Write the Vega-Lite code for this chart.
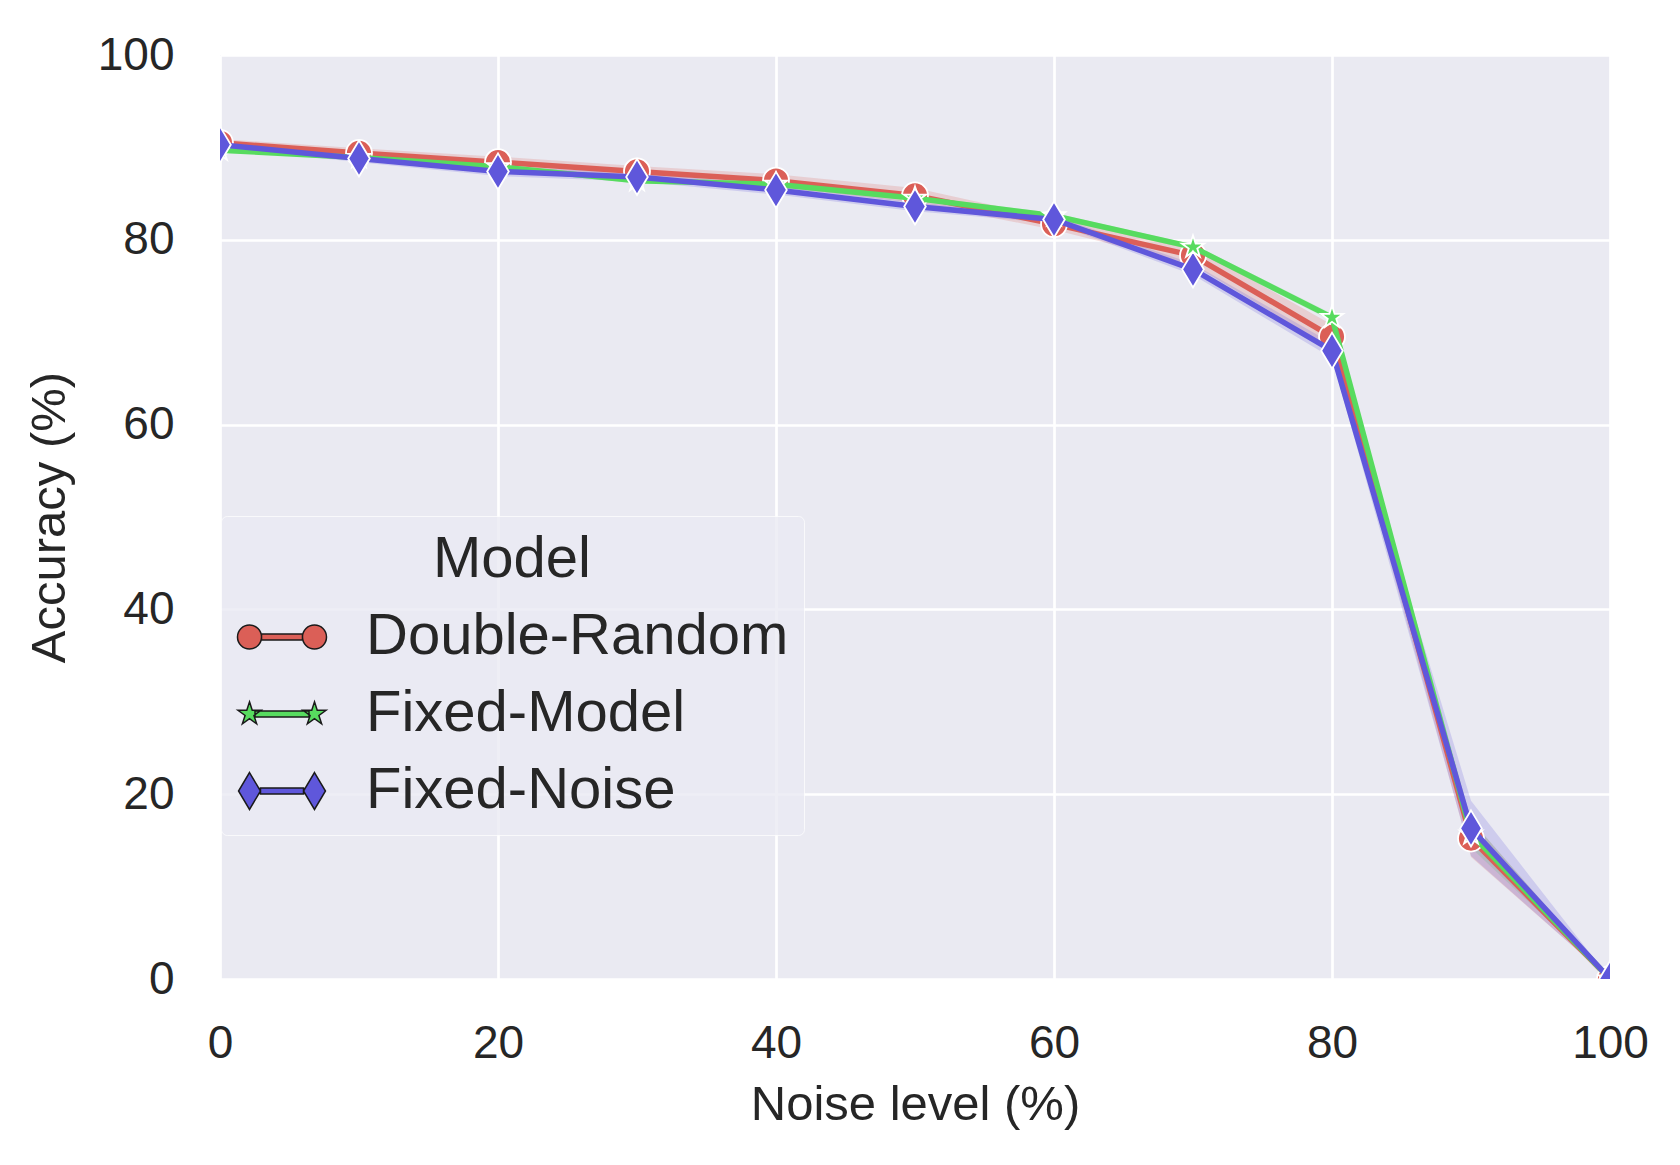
{
  "$schema": "https://vega.github.io/schema/vega-lite/v6.json",
  "width": 1390,
  "height": 924,
  "autosize": "none",
  "padding": {"left": 220, "top": 55, "right": 70, "bottom": 186},
  "background": "white",
  "config": {
    "font": "Liberation Sans",
    "view": {"fill": "#eaeaf2", "stroke": null},
    "axis": {
      "grid": true,
      "gridColor": "white",
      "gridWidth": 2.7,
      "domain": false,
      "ticks": false,
      "tickSize": 0,
      "labelFontSize": 46,
      "labelColor": "#262626",
      "titleFontSize": 49,
      "titleFontWeight": "normal",
      "titleColor": "#262626",
      "labelFlush": false
    },
    "legend": {
      "orient": "none",
      "legendX": 1,
      "legendY": 461,
      "direction": "vertical",
      "padding": 15,
      "fillColor": "rgba(234,234,242,0.8)",
      "strokeColor": "rgba(255,255,255,0.7)",
      "cornerRadius": 6,
      "titleFontSize": 58,
      "titleFontWeight": "normal",
      "titleColor": "#262626",
      "titleAnchor": "middle",
      "titlePadding": 2,
      "labelFontSize": 58,
      "labelColor": "#262626",
      "labelLimit": 0,
      "labelOffset": 38,
      "rowPadding": 2,
      "symbolSize": 8100,
      "symbolOpacity": 1
    }
  },
  "data": {
    "values": [
      {"noise": 0, "Model": "Double-Random", "acc": 90.5, "lo": 90.1, "hi": 90.9},
      {"noise": 10, "Model": "Double-Random", "acc": 89.4, "lo": 88.9, "hi": 89.9},
      {"noise": 20, "Model": "Double-Random", "acc": 88.4, "lo": 87.8, "hi": 89.0},
      {"noise": 30, "Model": "Double-Random", "acc": 87.4, "lo": 86.8, "hi": 88.0},
      {"noise": 40, "Model": "Double-Random", "acc": 86.4, "lo": 85.7, "hi": 87.1},
      {"noise": 50, "Model": "Double-Random", "acc": 84.8, "lo": 84.0, "hi": 85.6},
      {"noise": 60, "Model": "Double-Random", "acc": 81.7, "lo": 81.1, "hi": 82.3},
      {"noise": 70, "Model": "Double-Random", "acc": 78.3, "lo": 77.3, "hi": 79.3},
      {"noise": 80, "Model": "Double-Random", "acc": 69.5, "lo": 68.2, "hi": 70.8},
      {"noise": 90, "Model": "Double-Random", "acc": 15.2, "lo": 13.2, "hi": 17.2},
      {"noise": 100, "Model": "Double-Random", "acc": 0, "lo": 0, "hi": 0},
      {"noise": 0, "Model": "Fixed-Model", "acc": 89.7, "lo": 89.5, "hi": 89.9},
      {"noise": 10, "Model": "Fixed-Model", "acc": 88.9, "lo": 88.7, "hi": 89.1},
      {"noise": 20, "Model": "Fixed-Model", "acc": 87.9, "lo": 87.6, "hi": 88.2},
      {"noise": 30, "Model": "Fixed-Model", "acc": 86.4, "lo": 86.1, "hi": 86.7},
      {"noise": 40, "Model": "Fixed-Model", "acc": 86.0, "lo": 85.7, "hi": 86.3},
      {"noise": 50, "Model": "Fixed-Model", "acc": 84.5, "lo": 84.2, "hi": 84.8},
      {"noise": 60, "Model": "Fixed-Model", "acc": 82.6, "lo": 82.3, "hi": 82.9},
      {"noise": 70, "Model": "Fixed-Model", "acc": 79.2, "lo": 78.9, "hi": 79.5},
      {"noise": 80, "Model": "Fixed-Model", "acc": 71.6, "lo": 71.2, "hi": 72.0},
      {"noise": 90, "Model": "Fixed-Model", "acc": 15.7, "lo": 14.2, "hi": 17.2},
      {"noise": 100, "Model": "Fixed-Model", "acc": 0, "lo": 0, "hi": 0},
      {"noise": 0, "Model": "Fixed-Noise", "acc": 90.3, "lo": 90.0, "hi": 90.6},
      {"noise": 10, "Model": "Fixed-Noise", "acc": 88.8, "lo": 88.4, "hi": 89.2},
      {"noise": 20, "Model": "Fixed-Noise", "acc": 87.4, "lo": 86.9, "hi": 87.9},
      {"noise": 30, "Model": "Fixed-Noise", "acc": 86.8, "lo": 86.3, "hi": 87.3},
      {"noise": 40, "Model": "Fixed-Noise", "acc": 85.4, "lo": 84.9, "hi": 85.9},
      {"noise": 50, "Model": "Fixed-Noise", "acc": 83.6, "lo": 83.1, "hi": 84.1},
      {"noise": 60, "Model": "Fixed-Noise", "acc": 82.2, "lo": 81.8, "hi": 82.6},
      {"noise": 70, "Model": "Fixed-Noise", "acc": 76.8, "lo": 76.2, "hi": 77.4},
      {"noise": 80, "Model": "Fixed-Noise", "acc": 68.0, "lo": 67.2, "hi": 68.8},
      {"noise": 90, "Model": "Fixed-Noise", "acc": 16.3, "lo": 13.3, "hi": 19.3},
      {"noise": 100, "Model": "Fixed-Noise", "acc": 0, "lo": 0, "hi": 0}
    ]
  },
  "encoding": {
    "x": {
      "field": "noise",
      "type": "quantitative",
      "title": "Noise level (%)",
      "scale": {"domain": [0, 100], "nice": false, "zero": false},
      "axis": {"values": [0, 20, 40, 60, 80, 100], "labelPadding": 42, "titlePadding": 14}
    }
  },
  "layer": [
    {
      "mark": {"type": "area", "opacity": 0.2, "clip": true},
      "encoding": {
        "y": {
          "field": "lo",
          "type": "quantitative",
          "title": "Accuracy (%)",
          "scale": {"domain": [0, 100], "nice": false},
          "axis": {"values": [0, 20, 40, 60, 80, 100], "labelPadding": 46, "titlePadding": 23}
        },
        "y2": {"field": "hi"},
        "color": {
          "field": "Model",
          "type": "nominal",
          "title": "Model",
          "scale": {"domain": ["Double-Random", "Fixed-Model", "Fixed-Noise"], "range": ["#db5f57", "#57db5f", "#5f57db"]},
          "legend": {
            "title": "Model",
            "encode": {
              "symbols": {
                "update": {
                  "size": {"value": 8100},
                  "opacity": {"value": 1},
                  "fillOpacity": {"value": 1},
                  "stroke": {"value": "#1a1a1a"},
                  "strokeWidth": {"value": 1.5},
                  "shape": {"signal": "datum.value === 'Double-Random' ? 'M-0.989,0A0.267,0.267,0,1,1,-0.455,0A0.267,0.267,0,1,1,-0.989,0ZM0.455,0A0.267,0.267,0,1,1,0.989,0A0.267,0.267,0,1,1,0.455,0ZM-0.455,-0.067L0.455,-0.067L0.455,0.067L-0.455,0.067Z' : datum.value === 'Fixed-Model' ? 'M-0.722,-0.27L-0.6614,-0.0834L-0.4652,-0.0834L-0.624,0.0318L-0.5633,0.2184L-0.722,0.103L-0.8807,0.2184L-0.82,0.0318L-0.9788,-0.0834L-0.7826,-0.0834ZM0.722,-0.27L0.7826,-0.0834L0.9788,-0.0834L0.82,0.0318L0.8807,0.2184L0.722,0.103L0.5633,0.2184L0.624,0.0318L0.4652,-0.0834L0.6614,-0.0834ZM-0.6,-0.067L0.6,-0.067L0.6,0.067L-0.6,0.067Z' : 'M-0.722,-0.41L-0.478,0L-0.722,0.41L-0.966,0ZM0.722,-0.41L0.966,0L0.722,0.41L0.478,0ZM-0.478,-0.067L0.478,-0.067L0.478,0.067L-0.478,0.067Z'"}
                }
              }
            }
          }
        }
      }
    },
    {
      "transform": [{"filter": "datum.Model === 'Double-Random'"}],
      "mark": {"type": "line", "color": "#db5f57", "strokeWidth": 5.5, "clip": true},
      "encoding": {"y": {"field": "acc", "type": "quantitative"}}
    },
    {
      "transform": [{"filter": "datum.Model === 'Double-Random'"}],
      "mark": {"type": "point", "filled": true, "opacity": 1, "size": 1300, "stroke": "white", "strokeWidth": 1.8, "clip": true, "shape": "M-0.72,0A0.72,0.72,0,1,1,0.72,0A0.72,0.72,0,1,1,-0.72,0Z"},
      "encoding": {
        "y": {"field": "acc", "type": "quantitative"},
        "color": {"field": "Model", "type": "nominal", "title": "Model"}
      }
    },
    {
      "transform": [{"filter": "datum.Model === 'Fixed-Model'"}],
      "mark": {"type": "line", "color": "#57db5f", "strokeWidth": 5.5, "clip": true},
      "encoding": {"y": {"field": "acc", "type": "quantitative"}}
    },
    {
      "transform": [{"filter": "datum.Model === 'Fixed-Model'"}],
      "mark": {"type": "point", "filled": true, "opacity": 1, "size": 1300, "stroke": "white", "strokeWidth": 1.8, "clip": true, "shape": "M0,-0.65L0.1458,-0.2007L0.6182,-0.2009L0.236,0.0767L0.3821,0.5259L0,0.2481L-0.3821,0.5259L-0.236,0.0767L-0.6182,-0.2009L-0.1458,-0.2007Z"},
      "encoding": {
        "y": {"field": "acc", "type": "quantitative"},
        "color": {"field": "Model", "type": "nominal", "title": "Model"}
      }
    },
    {
      "transform": [{"filter": "datum.Model === 'Fixed-Noise'"}],
      "mark": {"type": "line", "color": "#5f57db", "strokeWidth": 5.5, "clip": true},
      "encoding": {"y": {"field": "acc", "type": "quantitative"}}
    },
    {
      "transform": [{"filter": "datum.Model === 'Fixed-Noise'"}],
      "mark": {"type": "point", "filled": true, "opacity": 1, "size": 1300, "stroke": "white", "strokeWidth": 1.8, "clip": true, "shape": "M0,-1L0.6,0L0,1L-0.6,0Z"},
      "encoding": {
        "y": {"field": "acc", "type": "quantitative"},
        "color": {"field": "Model", "type": "nominal", "title": "Model"}
      }
    }
  ]
}
